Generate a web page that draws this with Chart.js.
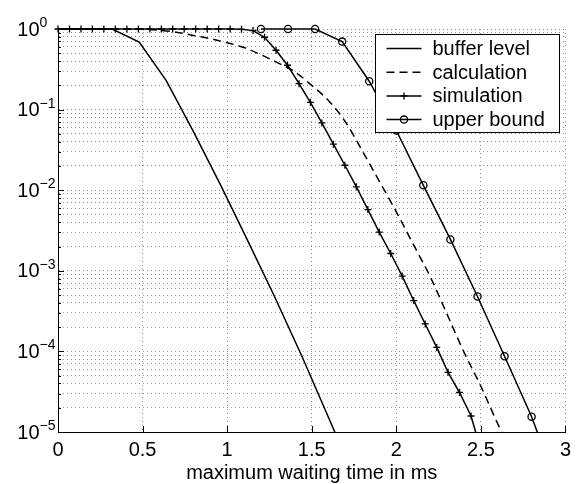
<!DOCTYPE html>
<html>
<head>
<meta charset="utf-8">
<script src="https://cdn.jsdelivr.net/npm/chart.js@4"></script>
<style>
  html, body { margin: 0; padding: 0; background: #fff; }
  canvas { display: block; }
</style>
</head>
<body>
<canvas id="chart" width="577" height="484"></canvas>
<script>
// values (x in ms, y = probability)
const bufferX = [0, 0.16, 0.32, 0.48, 0.64, 0.80, 0.96, 1.12, 1.28, 1.44, 1.60, 1.76];
const bufferY = [1, 1, 1, 0.69, 0.229, 0.0537, 0.01175, 0.0024, 4.8e-4, 8.9e-5, 1.5e-5, 2.5e-6];

const calcX = [0, 0.5, 0.6, 0.7, 0.8, 0.9, 1.0, 1.1, 1.2, 1.3, 1.4, 1.5, 1.6, 1.7, 1.8, 1.9, 2.0, 2.1, 2.2, 2.3, 2.4, 2.5, 2.6, 2.7];
const calcY = [1, 0.99, 0.964, 0.912, 0.832, 0.759, 0.676, 0.589, 0.479, 0.38, 0.295, 0.2, 0.129, 0.07, 0.0305, 0.0129, 0.0054, 0.00214, 8.5e-4, 2.9e-4, 9.8e-5, 3.7e-5, 1.26e-5, 4.8e-6];

const simX = [0, 0.068, 0.136, 0.203, 0.271, 0.339, 0.407, 0.475, 0.543, 0.611, 0.678, 0.746, 0.814, 0.882, 0.950, 1.018,
              1.085, 1.153, 1.221, 1.289, 1.357, 1.425, 1.492, 1.560, 1.628, 1.696, 1.764, 1.832, 1.899, 1.967,
              2.035, 2.103, 2.171, 2.239, 2.306, 2.374, 2.442, 2.510];
const simY = [1, 1, 1, 1, 1, 1, 1, 1, 1, 1, 1, 1, 1, 1, 1, 1,
              0.99, 0.955, 0.79, 0.545, 0.355, 0.21, 0.123, 0.0684, 0.0372, 0.0204, 0.011, 0.00575, 0.00302, 0.00164,
              8.6e-4, 4.27e-4, 2.19e-4, 1.12e-4, 5.5e-5, 3.09e-5, 1.58e-5, 5e-6];

const upperX = [1.2, 1.36, 1.52, 1.68, 1.84, 2.0, 2.16, 2.32, 2.48, 2.64, 2.80, 2.96];
const upperY = [1, 1, 1, 0.698, 0.225, 0.055, 0.0115, 0.00245, 4.8e-4, 8.7e-5, 1.55e-5, 1.9e-6];

const seriesNames = ['buffer level', 'calculation', 'simulation', 'upper bound'];
const xTicks = [0, 0.5, 1, 1.5, 2, 2.5, 3];
const yExponents = [-5, -4, -3, -2, -1, 0];
const xTitle = 'maximum waiting time in ms';

const FONT = '"Liberation Sans", Arial, Helvetica, sans-serif';
Chart.defaults.font.family = FONT;
Chart.defaults.color = '#000';

const pts = (xs, ys) => xs.map((x, i) => ({ x: x, y: ys[i] }));

// 10^n labels with raised exponent
const yLabelPlugin = {
    id: 'yLabels',
    afterDraw(chart) {
        const ctx = chart.ctx;
        const y = chart.scales.y;
        ctx.save();
        ctx.fillStyle = '#000';
        yExponents.forEach(e => {
            const py = y.getPixelForValue(Math.pow(10, e));
            ctx.font = '20px ' + FONT;
            ctx.textAlign = 'right';
            ctx.textBaseline = 'middle';
            ctx.fillText('10', 39.5, py + 1);
            ctx.font = '14px ' + FONT;
            ctx.textAlign = 'left';
            ctx.textBaseline = 'alphabetic';
            ctx.fillText(e === 0 ? '0' : '\u2212' + Math.abs(e), 39.5, py - 2);
        });
        ctx.restore();
    }
};

// matlab style ticks pointing into the axes
const innerTicksPlugin = {
    id: 'innerTicks',
    afterDraw(chart) {
        const { ctx, chartArea: a, scales: { x, y } } = chart;
        ctx.save();
        ctx.strokeStyle = '#000';
        ctx.lineWidth = 1;
        y.ticks.forEach(t => {
            const lg = Math.log10(t.value);
            const major = Math.abs(lg - Math.round(lg)) < 1e-6;
            const py = Math.round(y.getPixelForValue(t.value)) + 0.5;
            ctx.beginPath();
            ctx.moveTo(a.left, py);
            ctx.lineTo(a.left + (major ? 6 : 3), py);
            ctx.stroke();
        });
        x.ticks.forEach(t => {
            const px = Math.round(x.getPixelForValue(t.value)) + 0.5;
            ctx.beginPath();
            ctx.moveTo(px, a.bottom);
            ctx.lineTo(px, a.bottom - 6);
            ctx.stroke();
        });
        ctx.restore();
    }
};

const drawMarker = (ctx, style, cx, cy, r) => {
    ctx.beginPath();
    if (style === 'cross') {
        ctx.moveTo(cx - r, cy); ctx.lineTo(cx + r, cy);
        ctx.moveTo(cx, cy - r); ctx.lineTo(cx, cy + r);
    } else if (style === 'circle') {
        ctx.arc(cx, cy, r, 0, Math.PI * 2);
    }
    ctx.stroke();
};

// boxed legend inside the plot, top right
const boxLegendPlugin = {
    id: 'boxLegend',
    afterDraw(chart) {
        const { ctx, chartArea: a } = chart;
        const w = 184, h = 98;
        const left = Math.round(a.right - 6 - w) + 0.5;
        const top = Math.round(a.top + 5) + 0.5;
        ctx.save();
        ctx.fillStyle = '#fff';
        ctx.strokeStyle = '#000';
        ctx.lineWidth = 1;
        ctx.fillRect(left, top, w, h);
        ctx.strokeRect(left, top, w, h);
        ctx.font = '20px ' + FONT;
        ctx.textAlign = 'left';
        ctx.textBaseline = 'middle';
        chart.data.datasets.forEach((ds, i) => {
            const ry = top + 14 + i * 23.7;
            ctx.strokeStyle = '#000';
            ctx.lineWidth = ds.borderWidth;
            ctx.setLineDash(ds.borderDash || []);
            ctx.beginPath();
            ctx.moveTo(left + 11, ry);
            ctx.lineTo(left + 46, ry);
            ctx.stroke();
            ctx.setLineDash([]);
            if (ds.pointRadius > 0) {
                ctx.lineWidth = ds.pointBorderWidth;
                drawMarker(ctx, ds.pointStyle, left + 28.5, ry, ds.pointRadius);
            }
            ctx.fillStyle = '#000';
            ctx.fillText(ds.label, left + 57, ry + 1);
        });
        ctx.restore();
    }
};

const gridColor = 'rgba(0, 0, 0, 0.42)';
// let markers on the top row show fully, cut lines at the bottom axis
const plotClip = { left: 6, top: 6, right: 6, bottom: 0 };

new Chart(document.getElementById('chart'), {
    type: 'line',
    data: {
        datasets: [
            {
                label: seriesNames[0],
                data: pts(bufferX, bufferY),
                borderColor: '#000', borderWidth: 1.5,
                pointRadius: 0, tension: 0, clip: plotClip
            },
            {
                label: seriesNames[1],
                data: pts(calcX, calcY),
                borderColor: '#000', borderWidth: 1.5, borderDash: [8, 5],
                pointRadius: 0, cubicInterpolationMode: 'monotone', clip: plotClip
            },
            {
                label: seriesNames[2],
                data: pts(simX, simY),
                borderColor: '#000', borderWidth: 1.5,
                pointStyle: 'cross', pointRadius: 3.5, pointBorderWidth: 1.3,
                pointBorderColor: '#000', pointBackgroundColor: '#000', tension: 0, clip: plotClip
            },
            {
                label: seriesNames[3],
                data: pts(upperX, upperY),
                borderColor: '#000', borderWidth: 1.5,
                pointStyle: 'circle', pointRadius: 3.6, pointBorderWidth: 1.3,
                pointBorderColor: '#000', pointBackgroundColor: 'rgba(0,0,0,0)', tension: 0, clip: plotClip
            }
        ]
    },
    options: {
        responsive: false,
        devicePixelRatio: 1,
        animation: false,
        layout: { padding: { top: 29, right: 7, left: 0, bottom: 0 } },
        plugins: {
            legend: { display: false },
            tooltip: { enabled: false }
        },
        scales: {
            x: {
                type: 'linear',
                min: 0, max: 3,
                afterBuildTicks: scale => { scale.ticks = xTicks.map(v => ({ value: v })); },
                afterFit: scale => { scale.height = 52; },
                ticks: { font: { size: 20 }, color: '#000', padding: 6, maxRotation: 0, callback: v => String(v) },
                grid: { color: gridColor, lineWidth: 1, drawTicks: false },
                border: { display: true, color: '#000', width: 1, dash: [1, 3] },
                title: { display: true, text: xTitle, font: { size: 20 }, color: '#000', padding: { top: 0, bottom: -1.5 } }
            },
            y: {
                type: 'logarithmic',
                min: 1e-5, max: 1,
                afterBuildTicks: scale => {
                    const ticks = [];
                    yExponents.forEach(e => {
                        for (let m = 1; m <= 9; m++) {
                            const v = m * Math.pow(10, e);
                            if (v <= 1 + 1e-9) ticks.push({ value: v });
                        }
                    });
                    scale.ticks = ticks;
                },
                afterFit: scale => { scale.width = 58; },
                ticks: { display: false },
                grid: { color: gridColor, lineWidth: 1, drawTicks: false },
                border: { display: true, color: '#000', width: 1, dash: [1, 3] }
            }
        }
    },
    plugins: [innerTicksPlugin, yLabelPlugin, boxLegendPlugin]
});
</script>
</body>
</html>
